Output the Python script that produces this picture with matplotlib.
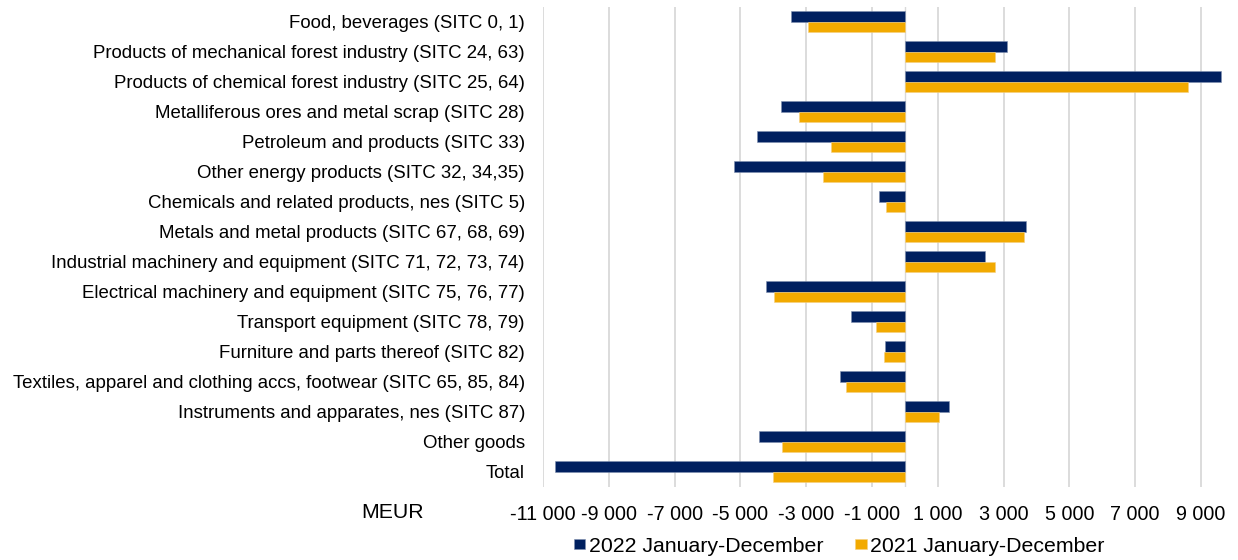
import numpy as np
import matplotlib.pyplot as plt

plt.rcParams['font.family'] = ['Liberation Sans', 'DejaVu Sans']

categories = [
    "Food, beverages (SITC 0, 1)",
    "Products of mechanical forest industry (SITC 24, 63)",
    "Products of chemical forest industry (SITC 25, 64)",
    "Metalliferous ores and metal scrap (SITC 28)",
    "Petroleum and products (SITC 33)",
    "Other energy products (SITC 32, 34,35)",
    "Chemicals and related products, nes (SITC 5)",
    "Metals and metal products (SITC 67, 68, 69)",
    "Industrial machinery and equipment (SITC 71, 72, 73, 74)",
    "Electrical machinery and equipment (SITC 75, 76, 77)",
    "Transport equipment (SITC 78, 79)",
    "Furniture and parts thereof (SITC 82)",
    "Textiles, apparel and clothing accs, footwear (SITC 65, 85, 84)",
    "Instruments and apparates, nes (SITC 87)",
    "Other goods",
    "Total",
]
# MEUR
y2022 = [-3470, 3100, 9620, -3770, -4500, -5180, -780, 3680,
         2430, -4220, -1650, -590, -1960, 1340, -4420, -10630]
y2021 = [-2960, 2740, 8610, -3220, -2260, -2500, -570, 3620,
         2730, -3970, -890, -630, -1790, 1040, -3740, -4010]
xticks = np.arange(-11000, 9001, 2000)

navy = '#002060'
gold = '#F2AA00'

fig = plt.figure(figsize=(12.38, 5.6), dpi=100)
ax = fig.add_axes([0.4386, 0.1304, 0.9887 - 0.4386, 0.9875 - 0.1304])

pos = np.arange(len(categories))
h = 0.35
ax.barh(pos - h / 2, y2022, height=h, color=navy, edgecolor='#8090B0', linewidth=0.4,
        label='2022 January-December', zorder=3)
ax.barh(pos + h / 2, y2021, height=h, color=gold, edgecolor='#F5D080', linewidth=0.4,
        label='2021 January-December', zorder=3)

ax.set_ylim(len(categories) - 0.5, -0.5)
ax.set_xlim(-11000, 9700)
ax.set_yticks(pos)
ax.set_yticklabels(categories, fontsize=13.4)
ax.set_xticks(xticks)
ax.set_xticklabels([f"{v:,}".replace(",", " ") for v in xticks], fontsize=14.2)
ax.tick_params(axis='y', length=0, pad=13)
ax.tick_params(axis='x', length=0, pad=13)
for s in ax.spines.values():
    s.set_visible(False)
ax.grid(axis='x', color='#D9D9D9', linewidth=1.3, zorder=0)
ax.axvline(0, color='#D9D9D9', linewidth=1.0, zorder=1)

fig.text(361 / 1238, 1 - 513 / 560, "MEUR", fontsize=15.3, va='center', ha='left')

fig.legend(loc='center', bbox_to_anchor=(839 / 1238, 1 - 546 / 560), ncol=2, frameon=False,
           fontsize=15.3, handlelength=0.55, handleheight=0.4, handletextpad=0.15,
           columnspacing=1.5, borderpad=0)

fig.savefig('out.png', dpi=100)
